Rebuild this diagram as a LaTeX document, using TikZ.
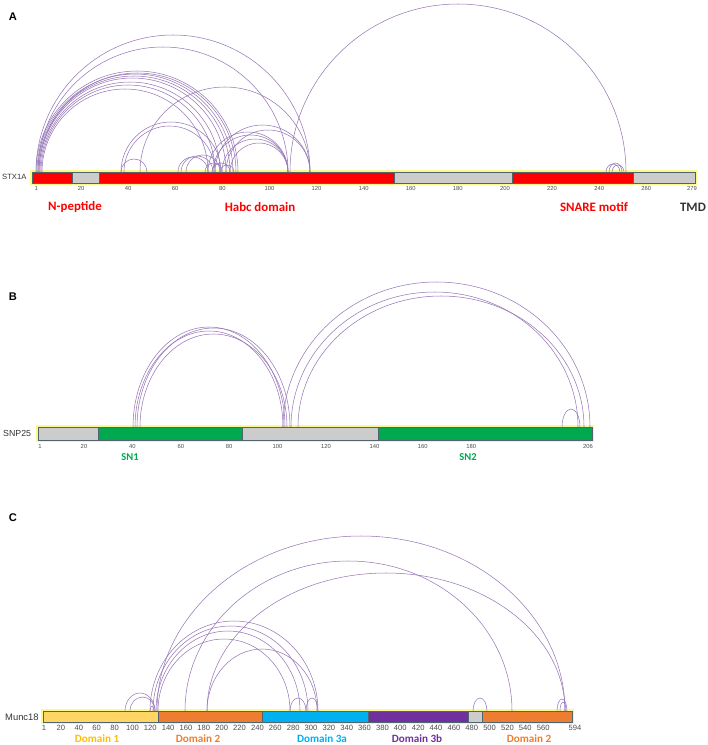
\documentclass[tikz,border=0pt]{standalone}
\usepackage{fontspec}
\setmainfont{Liberation Sans}
\newfontfamily\carlito{Carlito}
\usetikzlibrary{calc}

\definecolor{linkc}{RGB}{150,118,182}
\definecolor{barred}{RGB}{255,0,0}
\definecolor{bargray}{RGB}{204,204,204}
\definecolor{bargreen}{RGB}{0,168,80}
\definecolor{dom1}{RGB}{255,214,102}
\definecolor{dom1txt}{RGB}{255,190,0}
\definecolor{dom2}{RGB}{237,125,49}
\definecolor{dom3a}{RGB}{0,176,240}
\definecolor{dom3b}{RGB}{112,48,160}
\definecolor{glow}{RGB}{250,250,140}
\definecolor{edge}{RGB}{80,100,110}

\tikzset{
  link/.style={draw=linkc, line width=0.45pt},
  tick/.style={font=\fontsize{5}{6}\selectfont, text=black!70, inner sep=0pt},
  domlab/.style={font=\carlito\bfseries\fontsize{11}{12}\selectfont, inner sep=0pt},
  rowlab/.style={text=black!80, inner sep=0pt, anchor=west},
  panel/.style={font=\bfseries\fontsize{9.5}{10}\selectfont, inner sep=0pt}
}

\begin{document}
\begin{tikzpicture}[x=0.03cm, y=-0.03cm]
  \useasboundingbox (0,0) rectangle (708,745);

  % ---------- A: STX1A ----------
  \node[panel] (pA) at (13,17) {A};
  \node[rowlab, font=\fontsize{6.5}{7}\selectfont] (rA) at (2,177) {STX1A};

  \draw[glow, line width=3pt] (32,172) rectangle (695,183);
  \fill[barred]  (32,172) rectangle (72,183);
  \fill[bargray] (72,172) rectangle (99,183);
  \fill[barred]  (99,172) rectangle (394,183);
  \fill[bargray] (394,172) rectangle (512,183);
  \fill[barred]  (512,172) rectangle (633,183);
  \fill[bargray] (633,172) rectangle (695,183);
  \draw[edge, line width=0.4pt] (32,172) rectangle (695,183);
  \foreach \x in {72,99,394,512,633}
    \draw[edge, line width=0.4pt] (\x,172) -- (\x,183);

  % cross-links (left foot / right foot / height)
  \foreach \a/\b/\h in {36/310/137, 38/288/125, 36/238/101, 37/233/98,
      38/230/96, 39/226/94, 40/220/90, 41/215/87, 42/208/83, 39/236/99,
      121/147/13, 121/221/50, 124/215/46, 140/310/85,
      178/208/15, 181/213/16, 186/220/17, 205/222/9, 212/230/9, 220/234/7,
      208/288/40, 213/288/37, 222/288/33, 230/288/29, 215/310/47, 226/310/42,
      290/626/168, 606/620/8, 609/622/9, 612/624/7}
    \draw[link] (\a,172) arc[start angle=180, end angle=360,
      x radius={(\b-\a)/2}, y radius=\h];

  \node[tick] (tA1) at (36.3,188) {1};
  \foreach \r in {20,40,...,260}
    \node[tick] (tA\r) at ({36.3+(\r-1)*2.355},188) {\r};
  \node[tick] (tA279) at (692,188) {279};

  \node[domlab, text=barred] (lNp) at (75,207) {N-peptide};
  \node[domlab, text=barred] (lHabc) at (260,207) {Habc domain};
  \node[domlab, text=barred] (lSnare) at (594,207) {SNARE motif};
  \node[domlab, text=black!80] (lTmd) at (693,207) {TMD};

  % ---------- B: SNP25 ----------
  \node[panel] (pB) at (13,297) {B};
  \node[rowlab, font=\fontsize{7.5}{8}\selectfont] (rB) at (3,433) {SNP25};

  \draw[glow, line width=3pt] (38,427) rectangle (592,440);
  \fill[bargray]  (38,427) rectangle (98,440);
  \fill[bargreen] (98,427) rectangle (242,440);
  \fill[bargray]  (242,427) rectangle (378,440);
  \fill[bargreen] (378,427) rectangle (592,440);
  \draw[edge, line width=0.4pt] (38,427) rectangle (592,440);
  \foreach \x in {98,242,378}
    \draw[edge, line width=0.4pt] (\x,427) -- (\x,440);

  \foreach \a/\b/\h in {133/285/100, 135/283/96, 137/290/99, 140/287/93,
      283/590/145, 291/578/135, 298/584/131, 562/580/18}
    \draw[link] (\a,427) arc[start angle=180, end angle=360,
      x radius={(\b-\a)/2}, y radius=\h];

  \node[tick] (tB1) at (40,446) {1};
  \foreach \r in {20,40,...,180}
    \node[tick] (tB\r) at ({84+(\r-20)*2.42},446) {\r};
  \node[tick] (tB206) at (588,446) {206};

  \node[domlab, text=bargreen, font=\carlito\bfseries\fontsize{9}{10}\selectfont]
    (lSn1) at (130,457) {SN1};
  \node[domlab, text=bargreen, font=\carlito\bfseries\fontsize{9}{10}\selectfont]
    (lSn2) at (468,457) {SN2};

  % ---------- C: Munc18 ----------
  \node[panel] (pC) at (13,518) {C};
  \node[rowlab, font=\fontsize{8}{9}\selectfont] (rC) at (5,717) {Munc18};

  \draw[glow, line width=3pt] (43,711) rectangle (572,722);
  \fill[dom1]    (43,711) rectangle (158,722);
  \fill[dom2]    (158,711) rectangle (262,722);
  \fill[dom3a]   (262,711) rectangle (368,722);
  \fill[dom3b]   (368,711) rectangle (468,722);
  \fill[bargray] (468,711) rectangle (482,722);
  \fill[dom2]    (482,711) rectangle (572,722);
  \draw[edge, line width=0.5pt] (43,711) rectangle (572,722);
  \foreach \x in {158,262,368,468,482}
    \draw[edge, line width=0.4pt] (\x,711) -- (\x,722);

  \foreach \a/\b/\h in {125/155/18, 130/155/14, 150/154/5,
      150/318/90, 153/308/85, 156/300/80, 158/290/72, 207/317/62,
      157/565/175, 185/512/150, 207/565/138,
      290/306/13, 306/318/13, 473/487/13, 557/567/12, 560/566/9}
    \draw[link] (\a,711) arc[start angle=180, end angle=360,
      x radius={(\b-\a)/2}, y radius=\h];

  \node[tick, font=\fontsize{6.5}{7}\selectfont] (tC1) at (44,728) {1};
  \foreach \r in {20,40,...,560}
    \node[tick, font=\fontsize{6.5}{7}\selectfont] (tC\r) at ({44+(\r-1)*0.893},728) {\r};
  \node[tick, font=\fontsize{6.5}{7}\selectfont] (tC594) at (575,728) {594};

  \node[domlab, text=dom1txt, font=\carlito\bfseries\fontsize{9.5}{10}\selectfont]
    (lD1) at (97,739) {Domain 1};
  \node[domlab, text=dom2, font=\carlito\bfseries\fontsize{9.5}{10}\selectfont]
    (lD2) at (198,739) {Domain 2};
  \node[domlab, text=dom3a, font=\carlito\bfseries\fontsize{9.5}{10}\selectfont]
    (lD3a) at (322,739) {Domain 3a};
  \node[domlab, text=dom3b, font=\carlito\bfseries\fontsize{9.5}{10}\selectfont]
    (lD3b) at (417,739) {Domain 3b};
  \node[domlab, text=dom2, font=\carlito\bfseries\fontsize{9.5}{10}\selectfont]
    (lD2b) at (529,739) {Domain 2};
\end{tikzpicture}
\end{document}
